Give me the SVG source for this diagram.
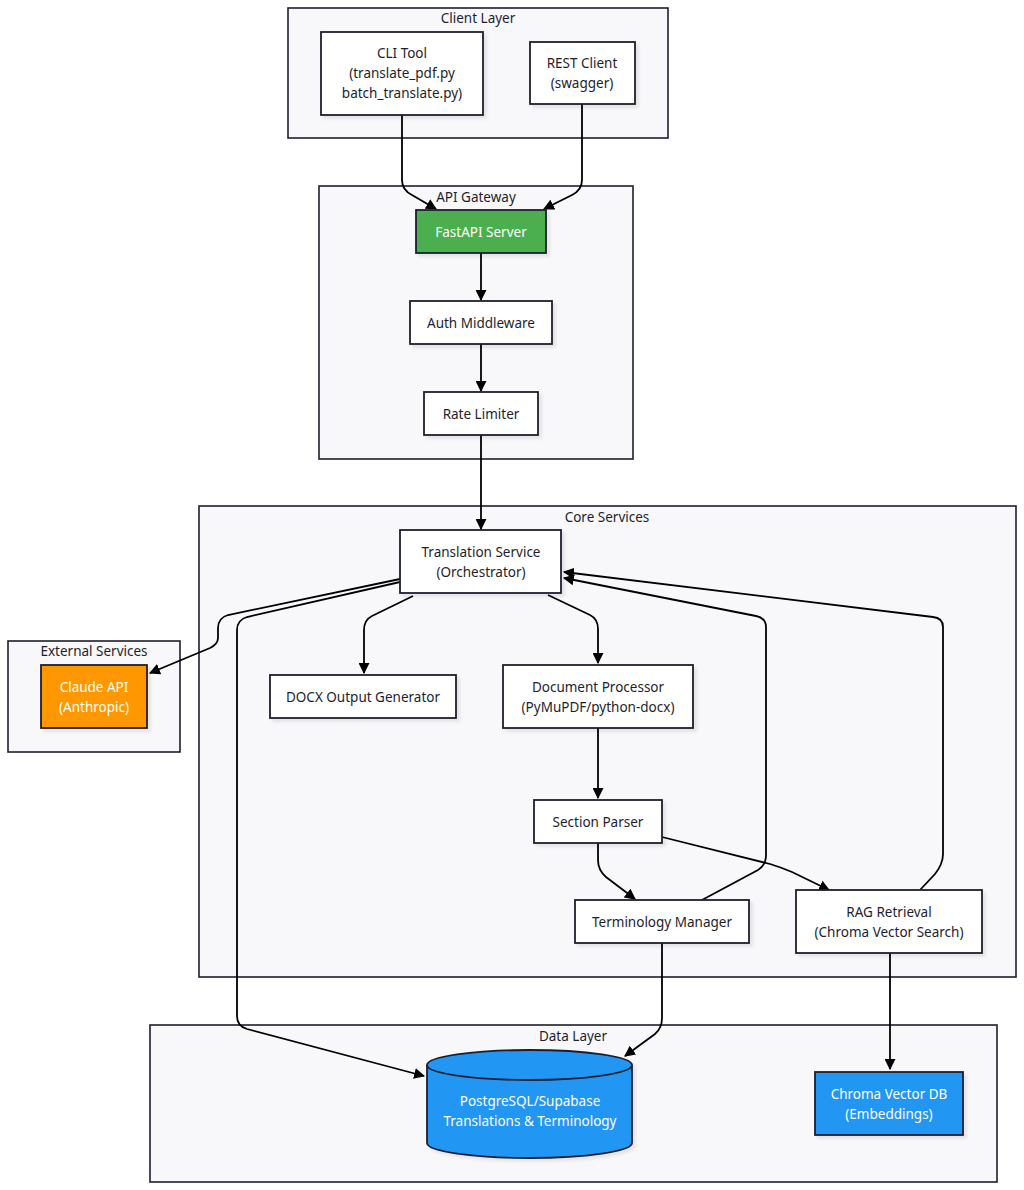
<svg xmlns="http://www.w3.org/2000/svg" width="1024" height="1190" viewBox="0 0 1024 1190">
<style>
.cl{fill:#f8f8fb;stroke:#1e1e2e;stroke-width:1.6}
.nd{fill:#ffffff;stroke:#1e1e2e;stroke-width:1.8;filter:url(#sh)}
.t{font-family:"Noto Sans","Open Sans",sans-serif;font-size:13.5px;fill:#1e1e2e;text-anchor:middle;dominant-baseline:central}
.w{fill:#ffffff}
.e{fill:none;stroke:#000;stroke-width:1.8;marker-end:url(#ar)}
</style>
<defs>
<marker id="ar" viewBox="0 0 10 10" refX="9" refY="5" markerWidth="11" markerHeight="11" orient="auto" markerUnits="userSpaceOnUse"><path d="M0,0 L10,5 L0,10 z" fill="#000"/></marker>
<filter id="sh" x="-10%" y="-10%" width="130%" height="130%"><feDropShadow dx="3" dy="3" stdDeviation="1.5" flood-color="#000" flood-opacity="0.08"/></filter>
</defs>
<rect width="1024" height="1190" fill="#ffffff"/>
<g id="clusters">
<g id="client-layer"><rect class="cl" x="288" y="8" width="380" height="130"/><text class="t" x="478" y="18">Client Layer</text></g>
<g id="api-gateway"><rect class="cl" x="319" y="186" width="314" height="273"/><text class="t" x="476" y="197">API Gateway</text></g>
<g id="core-services"><rect class="cl" x="199" y="506" width="817" height="471"/><text class="t" x="607" y="517">Core Services</text></g>
<g id="external-services"><rect class="cl" x="8" y="641" width="172" height="111"/><text class="t" x="94" y="651">External Services</text></g>
<g id="data-layer"><rect class="cl" x="150" y="1025" width="847" height="157"/><text class="t" x="573" y="1036">Data Layer</text></g>
</g>
<g id="connectors">
<path class="e" d="M402,115 L402,180 Q402,190 412,195 L436,209"/>
<path class="e" d="M582,104 L582,180 Q582,190 572,195 L544,209"/>
<path class="e" d="M481,253 L481,300"/>
<path class="e" d="M481,344 L481,391"/>
<path class="e" d="M481,435 L481,529"/>
<path class="e" d="M400,579 L228,615 Q218,618 218,628 L218,638 Q218,644 210,648 L150,673"/>
<path class="e" d="M400,582 L247,617 Q237,620 237,630 L237,1016 Q237,1026 247,1029 L424,1076"/>
<path class="e" d="M413,596 L372,616 Q364,620 364,630 L364,673"/>
<path class="e" d="M548,595 L590,615 Q598,619 598,629 L598,663"/>
<path class="e" d="M598,728 L598,798"/>
<path class="e" d="M598,843 L598,860 Q598,870 606,877 L635,899"/>
<path class="e" d="M662,837 L770,864 Q780,867 792,872 L829,890"/>
<path class="e" d="M702,900 L758,870 Q766,865 766,855 L766,627 Q766,618 756,616 L564,578"/>
<path class="e" d="M920,890 L935,874 Q943,864 943,854 L943,627 Q943,618 933,617 L564,572"/>
<path class="e" d="M662,943 L662,1018 Q662,1028 655,1034 L625,1056"/>
<path class="e" d="M890,953 L890,1069"/>
</g>
<g id="cli-tool"><rect class="nd" x="321" y="32" width="162" height="83"/><text class="t" x="402" y="53">CLI Tool</text><text class="t" x="402" y="73">(translate_pdf.py</text><text class="t" x="402" y="93">batch_translate.py)</text></g>
<g id="rest-client"><rect class="nd" x="530" y="42" width="105" height="62"/><text class="t" x="582" y="63">REST Client</text><text class="t" x="582" y="83">(swagger)</text></g>
<g id="fastapi-server"><rect class="nd" x="416" y="210" width="130" height="43" style="fill:#4CAF50"/><text class="t w" x="481" y="232">FastAPI Server</text></g>
<g id="auth-middleware"><rect class="nd" x="410" y="301" width="142" height="43"/><text class="t" x="481" y="323">Auth Middleware</text></g>
<g id="rate-limiter"><rect class="nd" x="424" y="392" width="114" height="43"/><text class="t" x="481" y="414">Rate Limiter</text></g>
<g id="translation-service"><rect class="nd" x="400" y="530" width="161" height="63"/><text class="t" x="481" y="552">Translation Service</text><text class="t" x="481" y="572">(Orchestrator)</text></g>
<g id="claude-api"><rect class="nd" x="41" y="665" width="106" height="63" style="fill:#FF9800"/><text class="t w" x="94" y="687">Claude API</text><text class="t w" x="94" y="707">(Anthropic)</text></g>
<g id="docx-output"><rect class="nd" x="270" y="675" width="186" height="43"/><text class="t" x="363" y="697">DOCX Output Generator</text></g>
<g id="document-processor"><rect class="nd" x="503" y="665" width="190" height="63"/><text class="t" x="598" y="687">Document Processor</text><text class="t" x="598" y="707">(PyMuPDF/python-docx)</text></g>
<g id="section-parser"><rect class="nd" x="534" y="800" width="128" height="43"/><text class="t" x="598" y="822">Section Parser</text></g>
<g id="terminology-manager"><rect class="nd" x="575" y="900" width="174" height="43"/><text class="t" x="662" y="922">Terminology Manager</text></g>
<g id="rag-retrieval"><rect class="nd" x="796" y="890" width="186" height="63"/><text class="t" x="889" y="912">RAG Retrieval</text><text class="t" x="889" y="932">(Chroma Vector Search)</text></g>
<g id="postgresql"><path class="nd" d="M427,1065 A102.5,15 0 0 1 632,1065 L632,1143 A102.5,15 0 0 1 427,1143 Z" style="fill:#2196F3"/><path d="M427,1065 A102.5,15 0 0 0 632,1065" fill="none" stroke="#1e1e2e" stroke-width="1.8"/><text class="t w" x="530" y="1101">PostgreSQL/Supabase</text><text class="t w" x="530" y="1121">Translations &amp; Terminology</text></g>
<g id="chroma-db"><rect class="nd" x="815" y="1072" width="148" height="63" style="fill:#2196F3"/><text class="t w" x="889" y="1094">Chroma Vector DB</text><text class="t w" x="889" y="1114">(Embeddings)</text></g>
</svg>
